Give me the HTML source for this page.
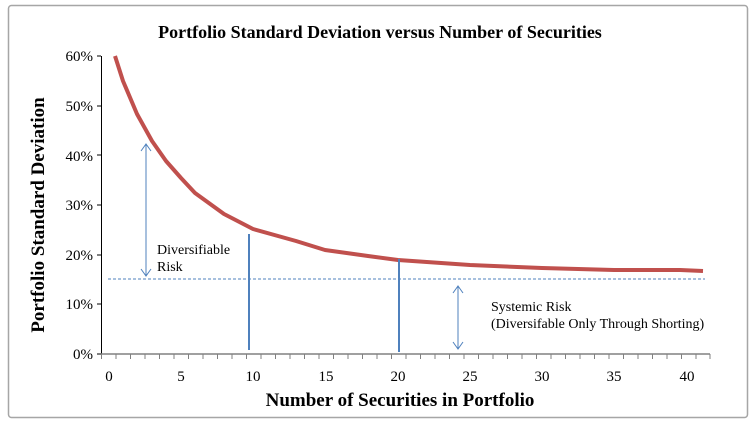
<!DOCTYPE html><html><head><style>body{margin:0;background:#fff}</style></head><body>
<svg width="756" height="425" xmlns="http://www.w3.org/2000/svg" font-family="Liberation Serif, serif">
<rect x="8.5" y="5.5" width="739" height="412" rx="3" fill="#fff" stroke="#a6a6a6" stroke-width="1.5"/>
<text x="380" y="38" text-anchor="middle" font-size="18" font-weight="bold">Portfolio Standard Deviation versus Number of Securities</text>
<g font-size="15" text-anchor="end">
<text x="93" y="61">60%</text><text x="93" y="111">50%</text><text x="93" y="161">40%</text><text x="93" y="210">30%</text><text x="93" y="260">20%</text><text x="93" y="309">10%</text><text x="93" y="359">0%</text>
</g>
<g stroke="#000" stroke-width="1">
<line x1="101.5" y1="56" x2="101.5" y2="354"/><line x1="97" y1="56" x2="101" y2="56"/><line x1="97" y1="106" x2="101" y2="106"/><line x1="97" y1="155" x2="101" y2="155"/><line x1="97" y1="205" x2="101" y2="205"/><line x1="97" y1="255" x2="101" y2="255"/><line x1="97" y1="304" x2="101" y2="304"/><line x1="97" y1="354" x2="101" y2="354"/>
</g>
<line x1="101" y1="354" x2="710" y2="354" stroke="#808080" stroke-width="1.5"/>
<path stroke="#808080" stroke-width="1" d="M101.5 354v5M116 354v5M130.5 354v5M145 354v5M159.5 354v5M174 354v5M188.5 354v5M203 354v5M217.5 354v5M232 354v5M246.5 354v5M261 354v5M275.5 354v5M290 354v5M304.5 354v5M319 354v5M333.5 354v5M348 354v5M362.5 354v5M377 354v5M391.5 354v5M406 354v5M420.5 354v5M435 354v5M449.5 354v5M464 354v5M478.5 354v5M493 354v5M507.5 354v5M522 354v5M536.5 354v5M551 354v5M565.5 354v5M580 354v5M594.5 354v5M609 354v5M623.5 354v5M638 354v5M652.5 354v5M667 354v5M681.5 354v5M696 354v5M710 354v5"/>
<g font-size="15" text-anchor="middle">
<text x="109" y="381">0</text><text x="181" y="381">5</text><text x="253" y="381">10</text><text x="326" y="381">15</text><text x="398" y="381">20</text><text x="470" y="381">25</text><text x="542" y="381">30</text><text x="614" y="381">35</text><text x="687" y="381">40</text>
</g>
<text x="400" y="406" text-anchor="middle" font-size="19" font-weight="bold">Number of Securities in Portfolio</text>
<text transform="translate(44,215) rotate(-90)" text-anchor="middle" font-size="19" font-weight="bold">Portfolio Standard Deviation</text>
<line x1="108" y1="279" x2="705" y2="279" stroke="#4f81bd" stroke-width="1" stroke-dasharray="3,2"/>
<polyline fill="none" stroke="#c0504d" stroke-width="4" stroke-linejoin="round" points="115,56 123,81 137,114 152,141 166,161 181,178 195,193 224,214 253,229 296,241 325,250 368,256 398,260 470,265 542,268 614,270 680,270 703,271"/>
<g stroke="#4f81bd" fill="none">
<line x1="249" y1="234" x2="249" y2="350" stroke-width="2"/>
<line x1="399" y1="259" x2="399" y2="352" stroke-width="2"/>
<line x1="146" y1="144" x2="146" y2="276"/><polyline points="141,151 146,144 151,151"/><polyline points="141,269 146,276 151,269"/>
<line x1="458" y1="286" x2="458" y2="349"/><polyline points="453,293 458,286 463,293"/><polyline points="453,342 458,349 463,342"/>
</g>
<g font-size="14">
<text x="157" y="254">Diversifiable</text><text x="157" y="271">Risk</text>
<text x="491" y="311">Systemic  Risk</text><text x="491" y="328">(Diversifable Only Through Shorting)</text>
</g>
</svg>
</body></html>
